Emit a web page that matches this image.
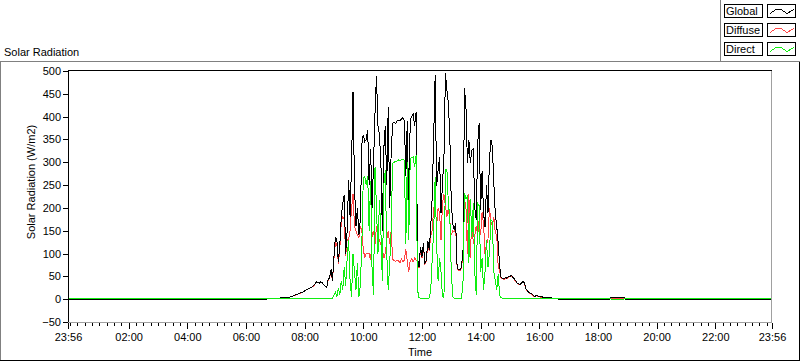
<!DOCTYPE html>
<html>
<head>
<meta charset="utf-8">
<script src="https://cdn.jsdelivr.net/npm/d3@7"></script>
<style>
  body { margin: 0; background: #fff; }
  text { font-family: 'Liberation Sans', Arial, sans-serif; font-size: 11px; fill: #000; }
</style>
</head>
<body>
<div id="chart"></div>
<script>
// minutes after midnight, 3 minute samples starting 06:45
const dayStart = 405
const dayStep = 3

const globalValues = [
  1, 1, 1, 1, 1, 1, 2, 2, 2, 3,
  3, 3, 3, 4, 4, 5, 6, 7, 8, 10,
  11, 12, 14, 15, 16, 18, 20, 22, 24, 25,
  27, 29, 33, 38, 37, 35, 38, 36, 32, 28,
  25, 43, 47, 65, 40, 93, 137, 130, 82, 120,
  181, 210, 228, 100, 150, 261, 180, 300, 455, 250,
  160, 200, 140, 175, 340, 360, 345, 350, 370, 250,
  330, 200, 300, 410, 490, 380, 360, 300, 150, 330,
  380, 250, 420, 200, 320, 385, 388, 385, 390, 392,
  390, 395, 398, 392, 270, 390, 180, 395, 400, 405,
  380, 410, 90, 70, 115, 93, 122, 78, 86, 128,
  108, 159, 225, 356, 491, 247, 283, 312, 188, 254,
  312, 495, 458, 429, 356, 210, 166, 152, 166, 68,
  64, 64, 71, 108, 462, 422, 298, 349, 298, 327,
  330, 200, 173, 342, 385, 196, 280, 188, 159, 250,
  188, 305, 349, 334, 254, 188, 159, 122, 71, 47,
  46, 44, 47, 46, 49, 50, 52, 48, 44, 40,
  35, 34, 32, 36, 40, 34, 22, 18, 15, 13,
  12, 8, 6, 9, 7, 5, 5, 5, 4, 4,
  4, 3, 3, 3, 2, 2, 1, 1, 0, 0
]

const diffuseValues = [
  1, 1, 1, 1, 1, 1, 2, 2, 2, 3,
  3, 3, 3, 4, 4, 5, 6, 7, 8, 9,
  11, 12, 13, 15, 16, 17, 20, 21, 24, 25,
  27, 28, 33, 37, 37, 35, 37, 36, 32, 28,
  25, 42, 46, 63, 40, 88, 125, 120, 78, 110,
  170, 180, 175, 95, 130, 130, 150, 200, 230, 160,
  150, 140, 135, 160, 150, 110, 90, 100, 100, 100,
  85, 140, 150, 120, 160, 140, 130, 120, 110, 90,
  100, 130, 150, 120, 150, 88, 85, 82, 86, 84,
  80, 88, 83, 85, 110, 82, 60, 84, 88, 82,
  90, 86, 85, 68, 112, 90, 118, 76, 84, 125,
  105, 140, 150, 200, 210, 160, 200, 190, 130, 210,
  230, 205, 180, 200, 170, 140, 150, 148, 160, 66,
  62, 62, 69, 100, 220, 200, 100, 230, 90, 180,
  120, 140, 160, 140, 175, 140, 190, 165, 100, 120,
  130, 200, 170, 160, 180, 145, 140, 70, 62, 46,
  45, 43, 46, 45, 48, 49, 51, 47, 43, 39,
  34, 33, 31, 35, 39, 33, 21, 17, 14, 12,
  11, 7, 6, 8, 6, 5, 4, 4, 3, 3,
  3, 3, 2, 2, 2, 1, 1, 1, 0, 0
]

const directValues = [
  2, 2, 2, 2, 2, 2, 2, 2, 2, 2,
  2, 2, 2, 2, 2, 2, 2, 2, 2, 2,
  2, 2, 2, 2, 2, 2, 2, 2, 2, 2,
  2, 2, 2, 2, 2, 2, 2, 2, 2, 2,
  2, 2, 2, 2, 2, 8, 15, 5, 25, 10,
  40, 20, 70, 30, 90, 130, 40, 5, 100, 60,
  20, 80, 5, 30, 120, 265, 268, 250, 270, 150,
  260, 60, 10, 290, 200, 100, 217, 150, 40, 250,
  283, 100, 20, 78, 150, 298, 300, 302, 303, 305,
  304, 305, 306, 305, 120, 300, 130, 308, 310, 312,
  290, 316, 20, 3, 2, 2, 2, 2, 2, 2,
  3, 20, 90, 150, 268, 120, 40, 90, 60, 5,
  3, 283, 285, 210, 180, 60, 5, 2, 2, 2,
  2, 2, 2, 40, 232, 220, 225, 80, 220, 137,
  210, 60, 10, 210, 205, 60, 90, 20, 60, 130,
  70, 100, 173, 170, 60, 40, 20, 55, 8, 3,
  2, 2, 2, 2, 2, 2, 2, 2, 2, 2,
  2, 2, 2, 2, 2, 2, 2, 2, 2, 2,
  2, 2, 2, 2, 2, 2, 2, 2, 2, 2,
  2, 2, 2, 2, 2, 2, 2, 2, 2, 2
]

// night points outside the day samples
const earlyTimes = [-4, 402]
const earlyGlobal = [0, 0]
const earlyDiffuse = [0, 0]
const earlyDirect = [2, 2]
const lateTimes = [1104, 1107, 1133, 1136, 1436]
const lateGlobal = [0, 4, 4, 0, 0]
const lateDiffuse = [0, 2, 2, 0, 0]
const lateDirect = [2, 0, 0, 2, 2]

const seriesNames = ['Global', 'Diffuse', 'Direct']
const seriesColors = ['#000000', '#ff4444', '#10ee10']

const yTicks = [-50, 0, 50, 100, 150, 200, 250, 300, 350, 400, 450, 500]
const xMajorTicks = [-4, 120, 240, 360, 480, 600, 720, 840, 960, 1080, 1200, 1320, 1436]
const xMinorTicks = d3.range(0, 1440, 15)

const width = 800
const height = 361
const plot = { left: 68, right: 772, top: 71, bottom: 322 }

const svg = d3
  .select('#chart')
  .append('svg')
  .attr('width', width)
  .attr('height', height)

svg
  .append('rect')
  .attr('width', width)
  .attr('height', height)
  .attr('fill', '#fff')

const xPositionScale = d3
  .scaleLinear()
  .domain([-4, 1436])
  .range([plot.left, plot.right])

const yPositionScale = d3
  .scaleLinear()
  .domain([-50, 500])
  .range([plot.bottom, plot.top])

function timeLabel(m) {
  const t = (m + 1440) % 1440
  return d3.format('02d')(Math.floor(t / 60)) + ':' + d3.format('02d')(t % 60)
}

function buildSeries(early, day, late) {
  const points = earlyTimes.map(function(t, i) {
    return { t: t, v: early[i] }
  })
  day.forEach(function(v, i) {
    points.push({ t: dayStart + i * dayStep, v: v })
  })
  lateTimes.forEach(function(t, i) {
    points.push({ t: t, v: late[i] })
  })
  return points
}

const series = [
  buildSeries(earlyGlobal, globalValues, lateGlobal),
  buildSeries(earlyDiffuse, diffuseValues, lateDiffuse),
  buildSeries(earlyDirect, directValues, lateDirect)
]

// outer panel border
svg
  .append('line')
  .attr('x1', 0)
  .attr('x2', 721)
  .attr('y1', 61.5)
  .attr('y2', 61.5)
  .attr('stroke', '#808080')
svg
  .append('line')
  .attr('x1', 0.5)
  .attr('x2', 0.5)
  .attr('y1', 61)
  .attr('y2', 361)
  .attr('stroke', '#808080')
svg
  .append('line')
  .attr('x1', 0)
  .attr('x2', 800)
  .attr('y1', 360.5)
  .attr('y2', 360.5)
  .attr('stroke', '#000')
svg
  .append('line')
  .attr('x1', 799.5)
  .attr('x2', 799.5)
  .attr('y1', 61)
  .attr('y2', 361)
  .attr('stroke', '#000')

svg
  .append('text')
  .attr('x', 4)
  .attr('y', 56)
  .text('Solar Radiation')

// legend panel
const legend = svg.append('g')
legend
  .append('line')
  .attr('x1', 720.5)
  .attr('x2', 720.5)
  .attr('y1', 0)
  .attr('y2', 62)
  .attr('stroke', '#808080')
legend
  .append('line')
  .attr('x1', 720)
  .attr('x2', 800)
  .attr('y1', 61.5)
  .attr('y2', 61.5)
  .attr('stroke', '#808080')

const legendRows = legend
  .selectAll('.legend-row')
  .data(seriesNames)
  .enter()
  .append('g')
  .attr('class', 'legend-row')
  .attr('transform', function(d, i) {
    return 'translate(0,' + (4 + i * 19) + ')'
  })

legendRows
  .append('rect')
  .attr('x', 724.5)
  .attr('y', 0.5)
  .attr('width', 38)
  .attr('height', 13)
  .attr('fill', '#fff')
  .attr('stroke', '#000')

legendRows
  .append('text')
  .attr('x', 726)
  .attr('y', 11)
  .text(function(d) {
    return d
  })

legendRows
  .append('rect')
  .attr('x', 767.5)
  .attr('y', 0.5)
  .attr('width', 28)
  .attr('height', 13)
  .attr('fill', '#fff')
  .attr('stroke', '#000')

legendRows
  .append('path')
  .attr('d', 'M770,9.5 L776,5.5 L781,5.5 L787,9.5 L794,5.5')
  .attr('fill', 'none')
  .attr('stroke', function(d, i) {
    return seriesColors[i]
  })
  .attr('shape-rendering', 'crispEdges')

// y axis
const yAxis = d3
  .axisLeft(yPositionScale)
  .tickValues(yTicks)
  .tickSize(5)
  .tickPadding(2)

svg
  .append('g')
  .attr('class', 'axis y-axis')
  .attr('transform', 'translate(' + plot.left + ',0)')
  .call(yAxis)

// x axis: minor and major ticks
const xMinorAxis = d3
  .axisBottom(xPositionScale)
  .tickValues(xMinorTicks)
  .tickSize(3)
  .tickFormat('')

svg
  .append('g')
  .attr('class', 'axis x-minor')
  .attr('transform', 'translate(0,' + (plot.bottom + 1) + ')')
  .call(xMinorAxis)

const xAxis = d3
  .axisBottom(xPositionScale)
  .tickValues(xMajorTicks)
  .tickSize(6)
  .tickPadding(4)
  .tickFormat(timeLabel)

svg
  .append('g')
  .attr('class', 'axis x-axis')
  .attr('transform', 'translate(0,' + (plot.bottom + 1) + ')')
  .call(xAxis)

svg.selectAll('.axis path').remove()
svg.selectAll('.axis line').attr('stroke', '#000').attr('shape-rendering', 'crispEdges')
svg
  .selectAll('.axis text')
  .attr('font-family', "'Liberation Sans', Arial, sans-serif")
  .attr('font-size', 11)
  .attr('fill', '#000')

svg
  .append('text')
  .attr('transform', 'translate(35,182) rotate(-90)')
  .attr('text-anchor', 'middle')
  .text('Solar Radiation (W/m2)')

svg
  .append('text')
  .attr('x', (plot.left + plot.right) / 2)
  .attr('y', 356)
  .attr('text-anchor', 'middle')
  .text('Time')

// plot lines, clipped to the plot frame
svg
  .append('clipPath')
  .attr('id', 'plot-clip')
  .append('rect')
  .attr('x', plot.left)
  .attr('y', plot.top)
  .attr('width', plot.right - plot.left)
  .attr('height', plot.bottom - plot.top)

const line = d3
  .line()
  .x(function(d) {
    return xPositionScale(d.t)
  })
  .y(function(d) {
    return yPositionScale(d.v)
  })

// diffuse underneath, then global, then direct on top
const drawOrder = [1, 0, 2]
svg
  .append('g')
  .attr('clip-path', 'url(#plot-clip)')
  .selectAll('.series')
  .data(drawOrder)
  .enter()
  .append('path')
  .attr('class', 'series')
  .attr('d', function(i) {
    return line(series[i])
  })
  .attr('fill', 'none')
  .attr('stroke', function(i) {
    return seriesColors[i]
  })
  .attr('stroke-width', 1)
  .attr('shape-rendering', 'crispEdges')

// plot frame: dark top/left, grey bottom/right
svg
  .append('line')
  .attr('x1', plot.left)
  .attr('x2', plot.right)
  .attr('y1', plot.top - 0.5)
  .attr('y2', plot.top - 0.5)
  .attr('stroke', '#000')
svg
  .append('line')
  .attr('x1', plot.left + 0.5)
  .attr('x2', plot.left + 0.5)
  .attr('y1', plot.top - 1)
  .attr('y2', plot.bottom + 1)
  .attr('stroke', '#000')
svg
  .append('line')
  .attr('x1', plot.right - 0.5)
  .attr('x2', plot.right - 0.5)
  .attr('y1', plot.top)
  .attr('y2', plot.bottom + 1)
  .attr('stroke', '#a0a0a0')
svg
  .append('line')
  .attr('x1', plot.left)
  .attr('x2', plot.right)
  .attr('y1', plot.bottom + 0.5)
  .attr('y2', plot.bottom + 0.5)
  .attr('stroke', '#a0a0a0')
</script>
</body>
</html>
